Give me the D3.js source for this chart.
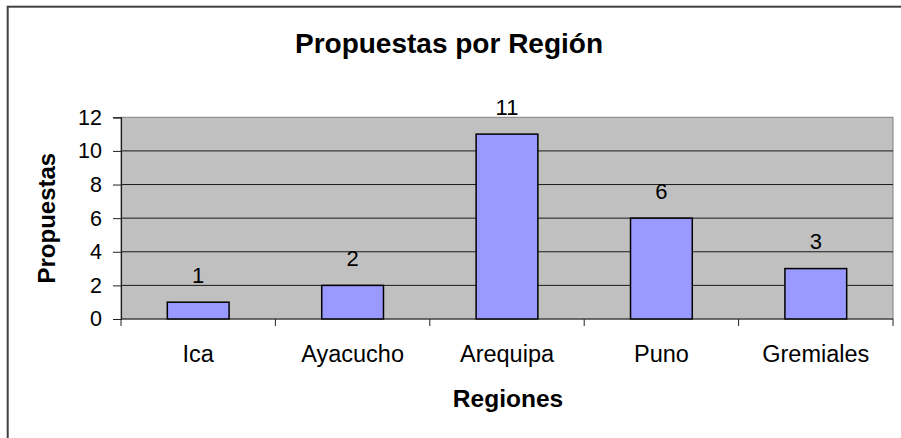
<!DOCTYPE html>
<html>
<head>
<meta charset="utf-8">
<script src="https://cdn.jsdelivr.net/npm/d3@7"></script>
<style>
  body { margin: 0; background: #fff; }
  svg { display: block; font-family: Arial, "Liberation Sans", sans-serif; }
</style>
</head>
<body>
<div id="chart"></div>
<script>
// data
const regions = ["Ica", "Ayacucho", "Arequipa", "Puno", "Gremiales"];
const propuestas = [1, 2, 11, 6, 3];
const y_ticks = [0, 2, 4, 6, 8, 10, 12];

const W = 901, H = 438;
const plot = { left: 121, right: 893, top: 117.3, bottom: 319 };

const svg = d3.select("#chart").append("svg")
    .attr("width", W)
    .attr("height", H);

// outer chart frame (only top/left visible, the rest is cropped)
svg.append("rect")
    .attr("x", 7.7).attr("y", 6.7)
    .attr("width", 1200).attr("height", 1200)
    .attr("fill", "none")
    .attr("stroke", "#404040")
    .attr("stroke-width", 2);

// scales
const x_scale = d3.scaleBand()
    .domain(regions)
    .range([plot.left, plot.right])
    .paddingInner(0.6)
    .paddingOuter(0.3);

const y_scale = d3.scaleLinear()
    .domain([0, 12])
    .range([plot.bottom, plot.top]);

// plot background
svg.append("rect")
    .attr("x", plot.left).attr("y", plot.top)
    .attr("width", plot.right - plot.left)
    .attr("height", plot.bottom - plot.top)
    .attr("fill", "#c0c0c0")
    .attr("stroke", "#808080")
    .attr("stroke-width", 1);

// gridlines
svg.append("g")
    .selectAll("line")
    .data(y_ticks.filter(d => d > 0 && d < 12))
    .enter().append("line")
    .attr("x1", plot.left).attr("x2", plot.right)
    .attr("y1", d => y_scale(d)).attr("y2", d => y_scale(d))
    .attr("stroke", "#1a1a1a")
    .attr("stroke-width", 1);

// bars
svg.append("g")
    .selectAll("rect")
    .data(propuestas)
    .enter().append("rect")
    .attr("x", (d, i) => x_scale(regions[i]))
    .attr("y", d => y_scale(d))
    .attr("width", x_scale.bandwidth())
    .attr("height", d => y_scale(0) - y_scale(d))
    .attr("fill", "#9999ff")
    .attr("stroke", "#000")
    .attr("stroke-width", 1.5);

// value labels
svg.append("g")
    .selectAll("text")
    .data(propuestas)
    .enter().append("text")
    .attr("x", (d, i) => x_scale(regions[i]) + x_scale.bandwidth() / 2)
    .attr("y", d => y_scale(d) - 19.5)
    .attr("text-anchor", "middle")
    .style("font-size", "22px")
    .attr("fill", "#000")
    .text(d => d);

// y axis
const y_axis = svg.append("g")
    .attr("transform", `translate(${plot.left},0)`)
    .call(d3.axisLeft(y_scale).tickValues(y_ticks).tickSize(8).tickPadding(11));
y_axis.select(".domain").attr("stroke", "#222").attr("stroke-width", 1.2);
y_axis.selectAll(".tick line").attr("stroke", "#222");
y_axis.selectAll(".tick text")
    .style("font-size", "21.5px")
    .style("font-family", "Arial, 'Liberation Sans', sans-serif")
    .attr("fill", "#000");

// x axis: ticks between categories like the original
const x_axis = svg.append("g")
    .attr("transform", `translate(0,${plot.bottom})`);
x_axis.append("line")
    .attr("x1", plot.left).attr("x2", plot.right)
    .attr("stroke", "#222").attr("stroke-width", 1.2);
const boundaries = regions.map(r => x_scale(r) - x_scale.step() * 0.3).concat([plot.right]);
x_axis.selectAll(".sep")
    .data(boundaries)
    .enter().append("line")
    .attr("class", "sep")
    .attr("x1", d => d).attr("x2", d => d)
    .attr("y1", 0).attr("y2", 7)
    .attr("stroke", "#222");
x_axis.selectAll(".cat")
    .data(regions)
    .enter().append("text")
    .attr("class", "cat")
    .attr("x", d => x_scale(d) + x_scale.bandwidth() / 2)
    .attr("y", 43)
    .attr("text-anchor", "middle")
    .style("font-size", "23.5px")
    .text(d => d);

// title
svg.append("text")
    .attr("x", 449)
    .attr("y", 53)
    .attr("text-anchor", "middle")
    .style("font-size", "28px")
    .style("font-weight", "bold")
    .text("Propuestas por Región");

// axis titles
svg.append("text")
    .attr("x", 508)
    .attr("y", 406.5)
    .attr("text-anchor", "middle")
    .style("font-size", "24.5px")
    .style("font-weight", "bold")
    .text("Regiones");

svg.append("text")
    .attr("transform", "rotate(-90)")
    .attr("x", -(plot.top + plot.bottom) / 2)
    .attr("y", 55)
    .attr("text-anchor", "middle")
    .style("font-size", "24px")
    .style("font-weight", "bold")
    .text("Propuestas");
</script>
</body>
</html>
